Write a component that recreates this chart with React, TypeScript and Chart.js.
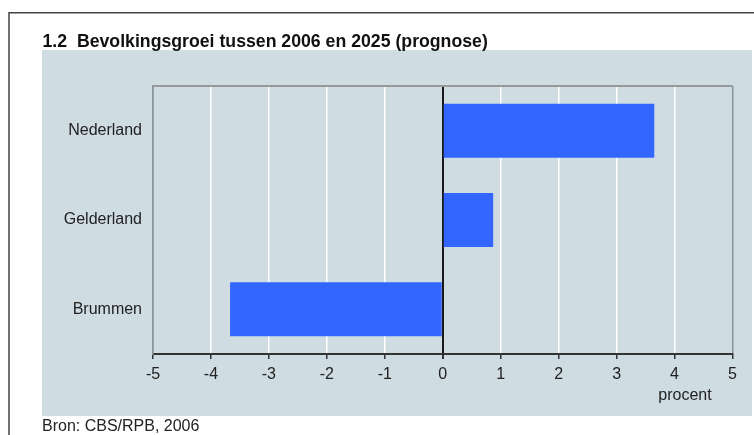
import React, { useEffect, useRef } from "react";
import { Chart, registerables } from "chart.js";

Chart.register(...registerables);

const categories = ["Nederland", "Gelderland", "Brummen"];
const growthValues = [3.65, 0.87, -3.67];
const xTicks = [-5, -4, -3, -2, -1, 0, 1, 2, 3, 4, 5];
const titleText = "1.2  Bevolkingsgroei tussen 2006 en 2025 (prognose)";
const axisUnit = "procent";
const sourceText = "Bron: CBS/RPB, 2006";

const FONT = '"Liberation Sans", Arial, sans-serif';
const PANEL = "#cfdce1";

const decorPlugin = {
  id: "decor",
  beforeDraw(chart: any) {
    const ctx = chart.ctx;
    ctx.save();
    ctx.fillStyle = "#ffffff";
    ctx.fillRect(0, 0, chart.width, chart.height);
    ctx.fillStyle = PANEL;
    ctx.fillRect(42, 50, 710, 366);
    ctx.strokeStyle = "#444";
    ctx.lineWidth = 1.5;
    ctx.beginPath();
    ctx.moveTo(9, 435);
    ctx.lineTo(9, 12.7);
    ctx.lineTo(754, 12.7);
    ctx.stroke();
    ctx.fillStyle = "#111";
    ctx.font = `bold 17.7px ${FONT}`;
    ctx.textBaseline = "alphabetic";
    ctx.textAlign = "left";
    ctx.fillText(titleText, 42.5, 47);
    ctx.restore();
  },
  afterDraw(chart: any) {
    const ctx = chart.ctx;
    const a = chart.chartArea;
    ctx.save();
    ctx.strokeStyle = "#959a9d";
    ctx.lineWidth = 2;
    ctx.beginPath();
    ctx.moveTo(a.left, a.top);
    ctx.lineTo(a.right, a.top);
    ctx.stroke();
    ctx.fillStyle = "#222";
    ctx.font = `16px ${FONT}`;
    ctx.textAlign = "center";
    ctx.textBaseline = "middle";
    ctx.fillText(axisUnit, 685, 396);
    ctx.textAlign = "left";
    ctx.fillText(sourceText, 42, 427);
    ctx.restore();
  },
};

export default function App() {
  const ref = useRef<HTMLCanvasElement | null>(null);

  useEffect(() => {
    if (!ref.current) return;
    const chart = new Chart(ref.current, {
      type: "bar",
      data: {
        labels: categories,
        datasets: [
          {
            data: growthValues,
            backgroundColor: "#3366ff",
            borderWidth: 0,
            barPercentage: 0.605,
            categoryPercentage: 1,
          },
        ],
      },
      plugins: [decorPlugin],
      options: {
        indexAxis: "y",
        responsive: false,
        animation: false,
        layout: { padding: { left: 0, right: 21.5, top: 86, bottom: 41 } },
        plugins: {
          legend: { display: false },
          tooltip: { enabled: false },
          title: { display: false },
        },
        scales: {
          x: {
            type: "linear",
            min: -5,
            max: 5,
            afterBuildTicks: (scale: any) => {
              scale.ticks = xTicks.map((v) => ({ value: v }));
            },
            afterFit: (scale: any) => {
              scale.height = 40;
            },
            ticks: {
              color: "#222",
              font: { family: FONT, size: 16 },
              padding: 6,
              callback: (v: any) => String(v),
            },
            grid: {
              drawTicks: true,
              tickLength: 5,
              tickColor: "#333",
              color: (c: any) => {
                const v = c.tick ? c.tick.value : null;
                if (v === 0) return "#1a1a1a";
                if (v === -5 || v === 5) return "#8c9396";
                return "#ffffff";
              },
              lineWidth: (c: any) => {
                const v = c.tick ? c.tick.value : null;
                if (v === 0) return 2;
                return 1.5;
              },
            },
            border: { display: true, color: "#333", width: 2 },
          },
          y: {
            type: "category",
            afterFit: (scale: any) => {
              scale.width = 153;
            },
            ticks: {
              color: "#222",
              font: { family: FONT, size: 16 },
              padding: 11,
            },
            grid: { display: false, drawTicks: false },
            border: { display: true, color: "#8c9396", width: 1.5 },
          },
        },
      },
    } as any);
    return () => chart.destroy();
  }, []);

  return (
    <div style={{ position: "absolute", left: 0, top: 0, width: 754, height: 435 }}>
      <canvas ref={ref} width={754} height={435} style={{ display: "block" }} />
    </div>
  );
}
